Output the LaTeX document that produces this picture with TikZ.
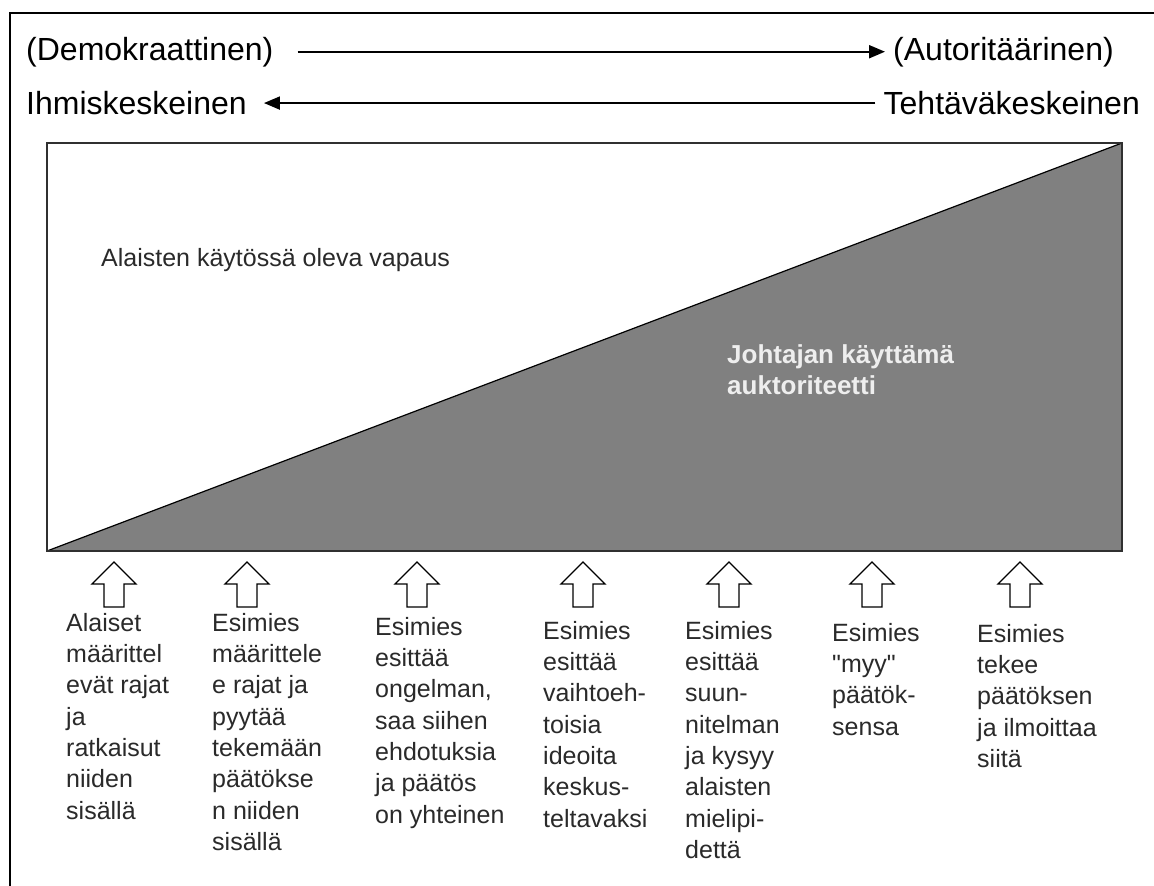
\documentclass[tikz,border=0pt]{standalone}
\usepackage{fontspec}
\setmainfont{Liberation Sans}
\usetikzlibrary{arrows.meta}
\definecolor{trifill}{HTML}{808080}
\definecolor{bodytext}{HTML}{2A2A2A}
\definecolor{boxline}{HTML}{303030}
\definecolor{lighttext}{HTML}{EEEEEE}
\begin{document}
\begin{tikzpicture}[x=1pt,y=-1pt,
  frameline/.style={line width=2pt, black},
  headtext/.style={font=\fontsize{32}{38}\selectfont, inner sep=0pt},
  axisarrow/.style={line width=2pt, -{Triangle[length=16pt,width=13pt]}},
  coltext/.style={font=\fontsize{25}{31.3}\selectfont, align=left, anchor=north west, inner sep=0pt, text=bodytext},
  blockarrow/.pic={\draw[line width=1.3pt, fill=white] (0,0) -- (22,22) -- (10,22) -- (10,45) -- (-10,45) -- (-10,22) -- (-22,22) -- cycle;}
]
\useasboundingbox (0,0) rectangle (1154,886);
\fill[white] (0,0) rectangle (1154,886);
\draw[frameline] (10,886) -- (10,13) -- (1154,13);

% header
\node[headtext, anchor=base west] (demo) at (26,60) {(Demokraattinen)};
\node[headtext, anchor=base west] (auto) at (893,60) {(Autoritäärinen)};
\node[headtext, anchor=base west] (ihmis) at (26,114.5) {Ihmiskeskeinen};
\node[headtext, anchor=base east] (teht) at (1140,114.5) {Tehtäväkeskeinen};
\draw[axisarrow] ([xshift=24pt]demo.east) -- ([xshift=-8pt]auto.west);
\draw[axisarrow] ([xshift=-8pt]teht.west) -- ([xshift=17pt]ihmis.east);

% box with triangle
\fill[trifill] (47,551) -- (1122,143) -- (1122,551) -- cycle;
\draw[line width=1.2pt, black] (47,551) -- (1122,143);
\draw[line width=1.5pt, boxline] (47,143) rectangle (1122,551);

\node[anchor=base west, inner sep=0pt, font=\fontsize{25}{31}\selectfont, text=bodytext] (free) at (101,266) {Alaisten käytössä oleva vapaus};
\node[anchor=north west, inner sep=0pt, align=left, font=\fontsize{26}{31}\selectfont\bfseries, text=lighttext] (auth) at (727,344) {Johtajan käyttämä\\auktoriteetti};

% block arrows
\pic at (114,562) {blockarrow};
\pic at (247,562) {blockarrow};
\pic at (417,562) {blockarrow};
\pic at (583,562) {blockarrow};
\pic at (729,562) {blockarrow};
\pic at (872,562) {blockarrow};
\pic at (1020,562) {blockarrow};

% column texts
\node[coltext] (c1) at (66,613) {Alaiset\\määrittel\\evät rajat\\ja\\ratkaisut\\niiden\\sisällä};
\node[coltext] (c2) at (212,613) {Esimies\\määrittele\\e rajat ja\\pyytää\\tekemään\\päätökse\\n niiden\\sisällä};
\node[coltext] (c3) at (375,617) {Esimies\\esittää\\ongelman,\\saa siihen\\ehdotuksia\\ja päätös\\on yhteinen};
\node[coltext] (c4) at (543,621) {Esimies\\esittää\\vaihtoeh-\\toisia\\ideoita\\keskus-\\teltavaksi};
\node[coltext] (c5) at (685,621) {Esimies\\esittää\\suun-\\nitelman\\ja kysyy\\alaisten\\mielipi-\\dettä};
\node[coltext] (c6) at (832,623) {Esimies\\{\addfontfeatures{Ligatures=TeXOff}"myy"}\\päätök-\\sensa};
\node[coltext] (c7) at (977,624) {Esimies\\tekee\\päätöksen\\ja ilmoittaa\\siitä};
\end{tikzpicture}
\end{document}
